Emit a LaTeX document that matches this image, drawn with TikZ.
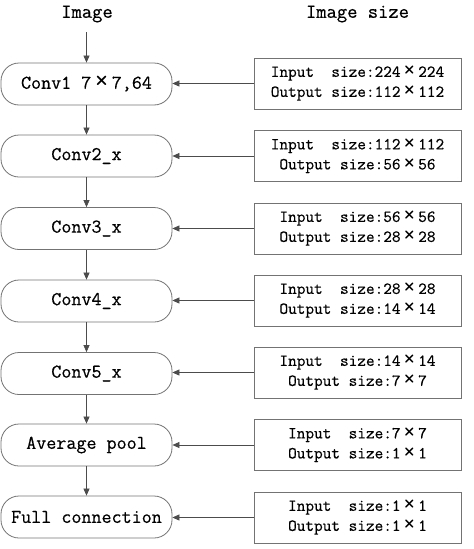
\documentclass[tikz,border=0pt]{standalone}
\usepackage{fontspec}
\setmonofont{Latin Modern Mono}[RawFeature={embolden=0.45}]
\newfontfamily\xfont{Latin Modern Mono}
\usetikzlibrary{arrows.meta}
\newcommand\X{\makebox[1.05em]{\smash{\raisebox{-0.06em}{\scalebox{1.45}{\xfont ×}}}}}
\begin{document}
\begin{tikzpicture}[x=1pt,y=-1pt,
  every node/.style={font=\ttfamily},
  lbox/.style={draw=black!55,line width=0.8pt,rounded corners=18pt,minimum width=171pt,minimum height=42pt,inner sep=0pt,font=\ttfamily\fontsize{19.5}{20}\selectfont},
  rbox/.style={draw=black!55,line width=0.8pt,minimum width=207pt,minimum height=51pt,inner sep=0pt,align=center,font=\ttfamily\fontsize{16.8}{20}\selectfont},
  ttl/.style={font=\ttfamily\fontsize{20}{22}\selectfont},
  arr/.style={draw=black!70,line width=0.7pt,-{Triangle[length=7pt,width=6pt]}}]
\useasboundingbox (0,0) rectangle (474,549);
\node[ttl] (t1) at (87,14) {Image};
\node[ttl] (t2) at (357.5,14) {Image size};
\node[lbox] (c1) at (86.5,84) {Conv1 7\X7,64};
\node[lbox] (c2) at (86.5,156) {Conv2\_x};
\node[lbox] (c3) at (86.5,228.5) {Conv3\_x};
\node[lbox] (c4) at (86.5,301) {Conv4\_x};
\node[lbox] (c5) at (86.5,373.5) {Conv5\_x};
\node[lbox] (c6) at (86.5,445) {Average pool};
\node[lbox] (c7) at (86.5,517) {Full connection};
\node[rbox] (r1) at (357.5,83.5) {Input~~size:224\X224\\Output size:112\X112};
\node[rbox] (r2) at (357.5,156) {Input~~size:112\X112\\Output size:56\X56};
\node[rbox] (r3) at (357.5,228.5) {Input~~size:56\X56\\Output size:28\X28};
\node[rbox] (r4) at (357.5,300.5) {Input~~size:28\X28\\Output size:14\X14};
\node[rbox] (r5) at (357.5,372.5) {Input~~size:14\X14\\Output size:7\X7};
\node[rbox] (r6) at (357.5,445) {Input~~size:7\X7\\Output size:1\X1};
\node[rbox] (r7) at (357.5,517.5) {Input~~size:1\X1\\Output size:1\X1};
\coordinate (s) at (86.5,32);
\draw[arr] (s) -- (c1.north);
\draw[arr] (c1) -- (c2);
\draw[arr] (c2) -- (c3);
\draw[arr] (c3) -- (c4);
\draw[arr] (c4) -- (c5);
\draw[arr] (c5) -- (c6);
\draw[arr] (c6) -- (c7);
\foreach \i in {1,...,7} {\draw[arr] (r\i.west) -- (r\i.west -| c\i.east);}
\end{tikzpicture}
\end{document}
